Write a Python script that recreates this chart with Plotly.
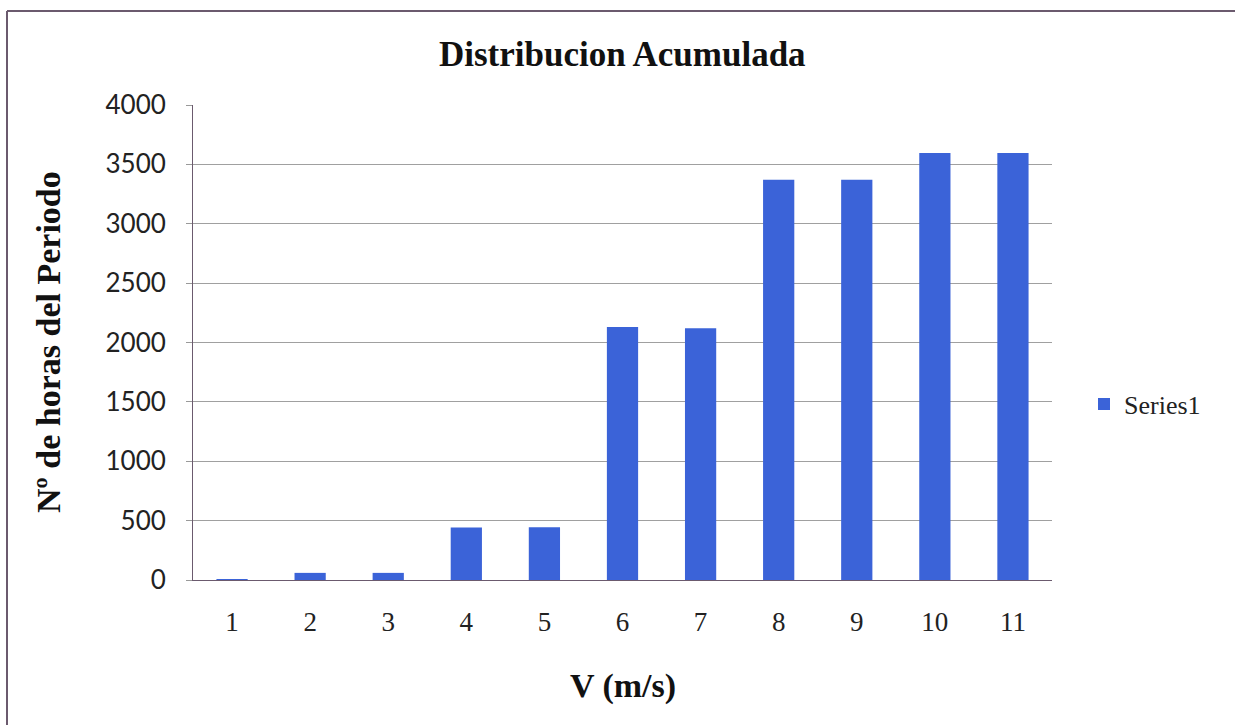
import plotly.graph_objects as go

# Cumulative hours per wind-speed class
velocidades = ["1", "2", "3", "4", "5", "6", "7", "8", "9", "10", "11"]
horas = [5, 60, 60, 443, 445, 2130, 2120, 3370, 3370, 3595, 3595]
y_ticks = [0, 500, 1000, 1500, 2000, 2500, 3000, 3500, 4000]

BAR = "#3b63d8"
AXIS = "#6b5a6e"
SERIF = "Liberation Serif"

fig = go.Figure()
fig.add_trace(go.Bar(
    x=velocidades, y=horas, name="Series1",
    marker=dict(color=BAR, line=dict(width=0)),
    width=0.4,
))

W, H = 1235, 725
L, R, T, B = 193, 183, 105, 145
pw, ph = W - L - R, H - T - B


def px(xp):
    return (xp - L) / pw


def py(yp):
    return (H - B - yp) / ph


fig.update_layout(
    width=W, height=H,
    margin=dict(l=L, r=R, t=T, b=B, autoexpand=False),
    paper_bgcolor="white", plot_bgcolor="white",
    showlegend=True,
    legend=dict(
        x=px(1084), y=py(404), xanchor="left", yanchor="middle",
        font=dict(family=SERIF, size=26, color="#222"),
        itemwidth=30, bgcolor="rgba(0,0,0,0)",
    ),
    bargap=0.6,
    xaxis=dict(
        type="category", showgrid=False, zeroline=False,
        showline=True, linecolor=AXIS, linewidth=1,
        ticks="", tickfont=dict(family=SERIF, size=27, color="#222"),
        ticklabelstandoff=18,
    ),
    yaxis=dict(
        range=[0, 4000], tickvals=y_ticks, showgrid=True,
        gridcolor="#a0a0a0", gridwidth=1, zeroline=False,
        showline=True, linecolor=AXIS, linewidth=1,
        ticks="outside", ticklen=6, tickcolor="#999",
        tickfont=dict(family="Lato", size=26, color="#222"),
        ticklabelstandoff=15,
    ),
    annotations=[
        dict(text="<b>Distribucion Acumulada</b>", xref="paper", yref="paper",
             x=0.5, y=py(55), xanchor="center", yanchor="middle",
             showarrow=False, font=dict(family=SERIF, size=35, color="#111")),
        dict(text="<b>V (m/s)</b>", xref="paper", yref="paper",
             x=0.5, y=py(686), xanchor="center", yanchor="middle",
             showarrow=False, font=dict(family=SERIF, size=34, color="#111")),
        dict(text="<b>Nº de horas del Periodo</b>", xref="paper", yref="paper",
             x=px(48), y=py(342), xanchor="center", yanchor="middle",
             textangle=-90, showarrow=False,
             font=dict(family=SERIF, size=34, color="#111")),
    ],
    shapes=[
        dict(type="line", xref="paper", yref="paper",
             x0=px(7), x1=px(7), y0=py(11), y1=py(725),
             line=dict(color=AXIS, width=2)),
        dict(type="line", xref="paper", yref="paper",
             x0=px(7), x1=px(1235), y0=py(11), y1=py(11),
             line=dict(color=AXIS, width=2)),
    ],
)

fig.write_html("out.html")
